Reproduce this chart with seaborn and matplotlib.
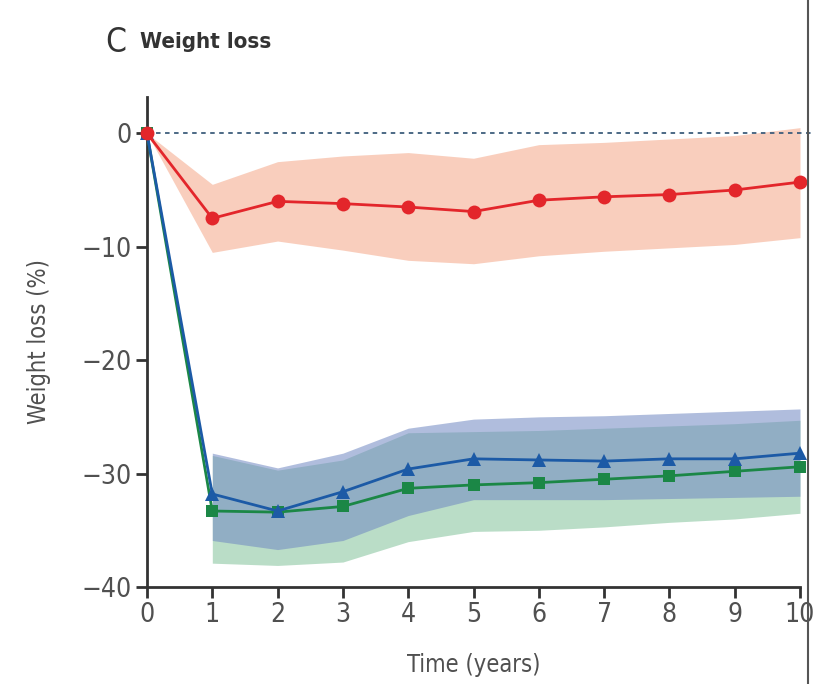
import numpy as np
import pandas as pd
import matplotlib
matplotlib.use("Agg")
import matplotlib.pyplot as plt
from matplotlib import font_manager
from matplotlib.lines import Line2D
import seaborn as sns

years = [0, 1, 2, 3, 4, 5, 6, 7, 8, 9, 10]

red_mean = [0, -7.5, -6.0, -6.2, -6.5, -6.9, -5.9, -5.6, -5.4, -5.0, -4.3]
red_upper = [0, -4.5, -2.5, -2.0, -1.7, -2.2, -1.0, -0.8, -0.5, -0.2, 0.5]
red_lower = [0, -10.5, -9.5, -10.3, -11.2, -11.5, -10.8, -10.4, -10.1, -9.8, -9.2]

blue_mean = [0, -31.8, -33.3, -31.6, -29.6, -28.7, -28.8, -28.9, -28.7, -28.7, -28.2]
blue_upper = [0, -28.2, -29.5, -28.2, -26.0, -25.2, -25.0, -24.9, -24.7, -24.5, -24.3]
blue_lower = [0, -35.9, -36.7, -35.9, -33.7, -32.3, -32.3, -32.3, -32.2, -32.1, -32.0]

green_mean = [0, -33.3, -33.4, -32.9, -31.3, -31.0, -30.8, -30.5, -30.2, -29.8, -29.4]
green_upper = [0, -28.4, -29.7, -28.8, -26.4, -26.3, -26.2, -26.0, -25.8, -25.6, -25.3]
green_lower = [0, -37.9, -38.1, -37.8, -36.0, -35.1, -35.0, -34.7, -34.3, -34.0, -33.5]

y_ticks = [0, -10, -20, -30, -40]
x_ticks = years

sns.set_theme(style="ticks")
avail = {f.name for f in font_manager.fontManager.ttflist}
fam = "Liberation Sans Narrow" if "Liberation Sans Narrow" in avail else "DejaVu Sans"
plt.rcParams["font.family"] = [fam, "DejaVu Sans"]
if fam == "DejaVu Sans":
    plt.rcParams["font.stretch"] = "condensed"

df = pd.DataFrame({
    "year": years * 3,
    "loss": red_mean + blue_mean + green_mean,
    "group": ["red"] * 11 + ["blue"] * 11 + ["green"] * 11,
})

fig = plt.figure(figsize=(8.28, 6.84), dpi=100)
ax = fig.add_axes([147 / 828, (684 - 587) / 684, (800 - 147) / 828, (587 - 97) / 684])

red_c = "#e3262b"
blue_c = "#1c5aa6"
green_c = "#1b8746"

ax.fill_between(years, red_lower, red_upper, color="#f8c6b2", alpha=0.85, lw=0, zorder=1)
ax.fill_between(years[1:], green_lower[1:], green_upper[1:], color="#8cc7a3", alpha=0.6, lw=0, zorder=1)
ax.fill_between(years[1:], blue_lower[1:], blue_upper[1:], color="#7088c2", alpha=0.55, lw=0, zorder=1)

ax.axhline(0, color="#3e5e7c", lw=1.3, ls=(0, (2.5, 2.5)), zorder=2, xmax=1.02, clip_on=False)

styles = {"red": ("o", red_c, 10), "blue": ("^", blue_c, 10), "green": ("s", green_c, 8.5)}
for g in ["green", "blue", "red"]:
    m, c, ms = styles[g]
    sub = df[df["group"] == g]
    sns.lineplot(data=sub, x="year", y="loss", ax=ax, color=c, marker=m, markersize=ms,
                 markeredgewidth=0, lw=2, zorder=4, clip_on=False)

ax.set_xlim(0, 10)
ax.set_ylim(-40, 3.2)
ax.set_xticks(x_ticks)
ax.set_xticklabels([str(v) for v in x_ticks])
ax.set_yticks(y_ticks)
ax.set_yticklabels([str(v).replace("-", "\u2212") for v in y_ticks])
for s in ["top", "right"]:
    ax.spines[s].set_visible(False)
for s in ["left", "bottom"]:
    ax.spines[s].set_color("#333333")
    ax.spines[s].set_linewidth(2)
ax.tick_params(axis="both", direction="out", length=8, width=2, color="#333333",
               labelsize=19, labelcolor="#505050", pad=3)
ax.set_xlabel("Time (years)", fontsize=17, color="#505050", labelpad=18)
ax.set_ylabel("Weight loss (%)", fontsize=17, color="#505050", labelpad=22)

fig.text(105 / 828, 1 - 42 / 684, "C", fontsize=24, color="#333333", va="center", ha="left")
fig.text(140 / 828, 1 - 42 / 684, "Weight loss", fontsize=16, color="#333333",
         va="center", ha="left", fontweight="semibold")
fig.add_artist(Line2D([808 / 828, 808 / 828], [0, 1], color="#555555", lw=1.5))

fig.savefig("out.png", dpi=100)
